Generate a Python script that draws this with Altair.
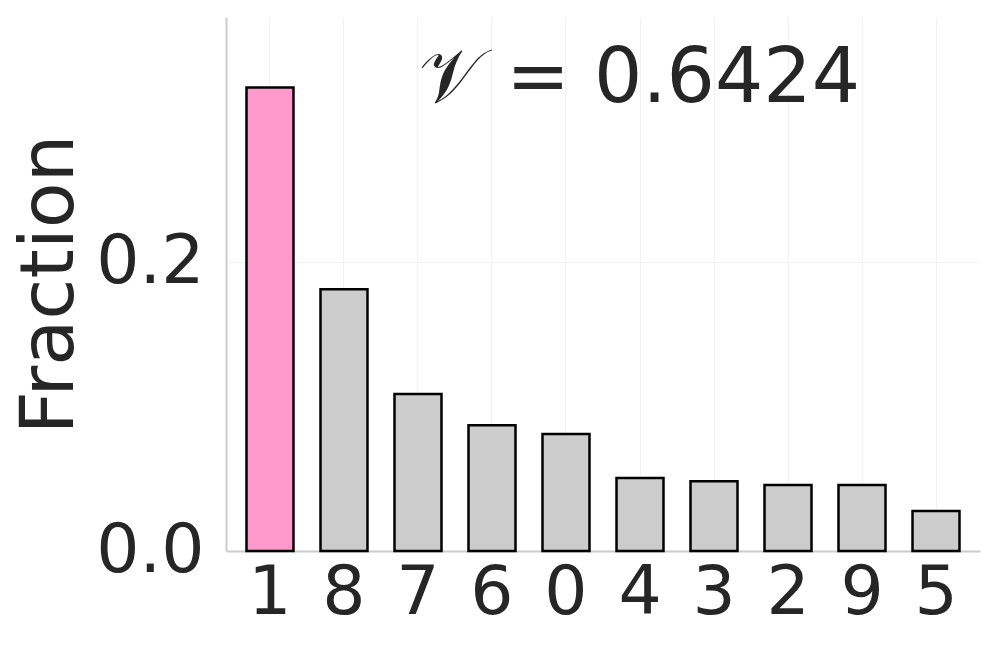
import altair as alt
import pandas as pd

categories = ["1", "8", "7", "6", "0", "4", "3", "2", "9", "5"]
fractions = [0.3211, 0.1813, 0.1087, 0.0872, 0.0810, 0.0505, 0.0484, 0.0457, 0.0457, 0.0277]
highlight = [True, False, False, False, False, False, False, False, False, False]
annotation = "𝒱 = 0.6424"

df = pd.DataFrame({"digit": categories, "fraction": fractions, "hl": highlight})

FONT = "DejaVu Sans"
TXT = "#262626"

x = alt.X("digit:N", sort=categories, title=None,
          scale=alt.Scale(paddingInner=0.365, paddingOuter=0.277),
          axis=alt.Axis(labelAngle=0, labelFontSize=68, labelFont=FONT, labelColor=TXT,
                        labelPadding=8, ticks=False, domainColor="#cccccc", domainWidth=2,
                        grid=True, gridColor="#f2f2f2", gridWidth=1, bandPosition=0.5))
y = alt.Y("fraction:Q", title="Fraction",
          scale=alt.Scale(domain=[0, 0.37], nice=False),
          axis=alt.Axis(values=[0.0, 0.2], format=".1f", labelFontSize=68, labelFont=FONT,
                        labelColor=TXT, labelPadding=22, ticks=False, domainColor="#cccccc",
                        domainWidth=2, grid=True, gridColor="#f2f2f2", gridWidth=1,
                        titleFontSize=75, titleFont=FONT, titleColor=TXT,
                        titleFontWeight="normal", titlePadding=7))

bars = alt.Chart(df).mark_bar(stroke="black", strokeWidth=2.5).encode(
    x=x, y=y,
    color=alt.Color("hl:N", scale=alt.Scale(domain=[True, False], range=["#ff99cc", "#cccccc"]),
                    legend=None),
)

text = alt.Chart(pd.DataFrame({"t": [annotation]})).mark_text(
    font=FONT, fontSize=76, color=TXT, align="right", baseline="alphabetic"
).encode(text="t:N", x=alt.value(634), y=alt.value(85))

chart = alt.layer(bars, text).properties(
    width=754, height=534,
    autosize=alt.AutoSizeParams(type="none"),
    padding={"left": 218, "top": 9, "right": 9, "bottom": 93},
).configure_view(stroke=None)

chart.save("out.html", embed_options={"renderer": "svg", "actions": False})
